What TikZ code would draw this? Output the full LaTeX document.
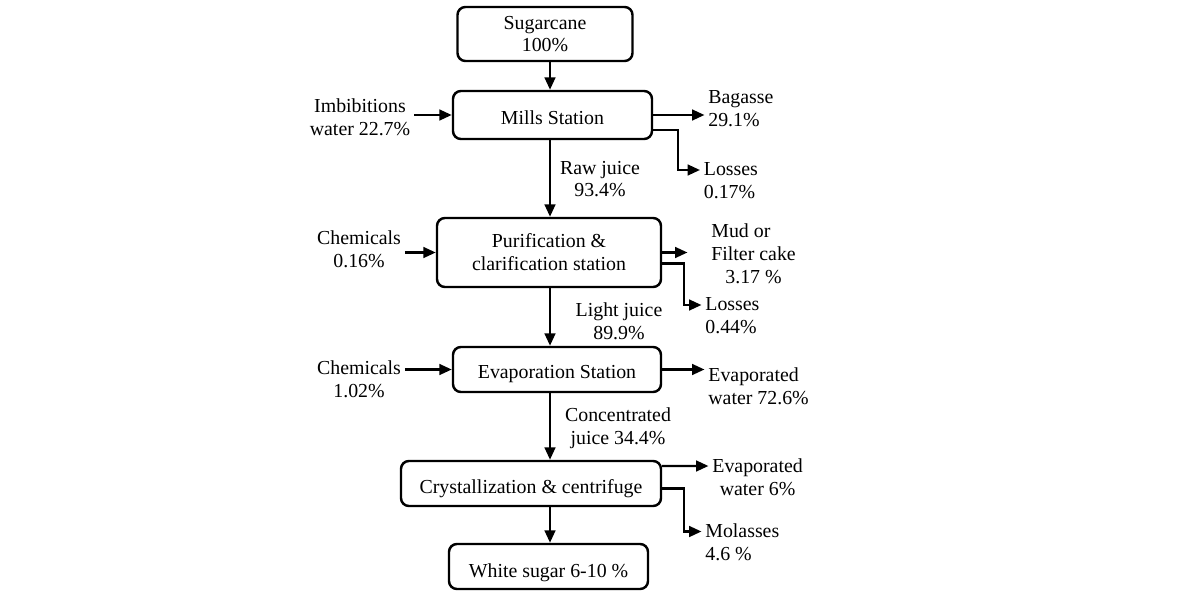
\documentclass[tikz,border=0pt]{standalone}
\usepackage{fontspec}
\setmainfont{Liberation Serif}
\usetikzlibrary{arrows.meta,calc}

\begin{document}
\begin{tikzpicture}[
        stn/.style={rectangle, rounded corners=4.5pt, draw, line width=1.4pt,
                    align=center, font=\fontsize{11.3}{13}\selectfont},
        low/.style={text height=#1},
        note/.style={align=center, inner sep=2pt, font=\fontsize{11.3}{13}\selectfont},
        arr/.style={-{Triangle[length=7pt,width=6pt]}, line width=1.4pt}
      ]
        \useasboundingbox (0,0) rectangle (24,12);
        \coordinate (spine) at (11,0);

        % Stations
        \node[stn, minimum width=3.5cm,  minimum height=1.08cm] (cane)  at (10.9,11.32) {Sugarcane\\100\%};
        \node[stn, low=0.38cm, minimum width=3.98cm, minimum height=0.96cm] (mills) at (11.05,9.70) {Mills Station};
        \node[stn, minimum width=4.48cm, minimum height=1.38cm] (purif) at (10.98,6.95) {Purification \&\\clarification station};
        \node[stn, low=0.46cm, minimum width=4.16cm, minimum height=0.9cm]  (evap)  at (11.14,4.61) {Evaporation Station};
        \node[stn, low=0.48cm, minimum width=5.2cm,  minimum height=0.9cm]  (cryst) at (10.62,2.33) {Crystallization \& centrifuge};
        \node[stn, low=0.52cm, minimum width=3.98cm, minimum height=0.9cm]  (white) at (10.97,0.67) {White sugar 6-10 \%};

        % Main stream
        \draw[arr] (spine |- cane.south)  -- (spine |- mills.north);
        \draw[arr] (spine |- mills.south) -- (spine |- purif.north);
        \draw[arr] (spine |- purif.south) -- (spine |- evap.north);
        \draw[arr] (spine |- evap.south)  -- (spine |- cryst.north);
        \draw[arr] (spine |- cryst.south) -- (spine |- white.north);
        \node[note] (raw)   at (12.0,8.42)  {Raw juice\\93.4\%};
        \node[note] (light) at (12.38,5.57) {Light juice\\89.9\%};
        \node[note] (conc)  at (12.36,3.43) {Concentrated\\juice 34.4\%};

        % Inputs
        \node[note] (imb)   at (7.2,9.65) {Imbibitions\\water 22.7\%};
        \node[note] (chem1) at (7.18,7.01)  {Chemicals\\0.16\%};
        \node[note] (chem2) at (7.18,4.42)  {Chemicals\\1.02\%};
        \draw[arr] (imb.east |- mills.west)   -- (mills.west);
        \draw[arr] (chem1.east |- purif.west) -- (purif.west);
        \draw[arr] (chem2.east |- evap.west)  -- (evap.west);

        % Outputs
        \node[note, anchor=west, align=left] (bag)   at (14.09,9.83) {Bagasse\\29.1\%};
        \node[note, anchor=west, align=left] (loss1) at (14.0,8.38)  {Losses\\0.17\%};
        \node[note, anchor=west, align=left] (mud)   at (14.15,6.92) {Mud or\\Filter cake\\\hspace*{0.28cm}3.17 \%};
        \node[note, anchor=west, align=left] (loss2) at (14.03,5.68) {Losses\\0.44\%};
        \node[note, anchor=west, align=left] (evw1)  at (14.09,4.28) {Evaporated\\water 72.6\%};
        \node[note, anchor=west]             (evw2)  at (14.17,2.46) {Evaporated\\water 6\%};
        \node[note, anchor=west, align=left] (mol)   at (14.03,1.15) {Molasses\\4.6 \%};
        \draw[arr] (mills.east) -- (mills.east -| bag.west);
        \draw[arr] ([yshift=-3mm]mills.east) -- ++(0.5,0) |- ([yshift=2.2mm]loss1.west);
        \draw[arr] (purif.east) -- ($(purif.east -| mud.west)+(-0.4,0)$);
        \draw[arr] ([yshift=-2.2mm]purif.east) -- ++(0.44,0) |- ([yshift=2.2mm]loss2.west);
        \draw[arr] (evap.east) -- (evap.east -| evw1.west);
        \draw[arr] ([yshift=3.5mm]cryst.east) -- ([yshift=2.2mm]evw2.west);
        \draw[arr] ([yshift=-1mm]cryst.east) -- ++(0.44,0) |- ([yshift=2.2mm]mol.west);
      \end{tikzpicture}
\end{document}
